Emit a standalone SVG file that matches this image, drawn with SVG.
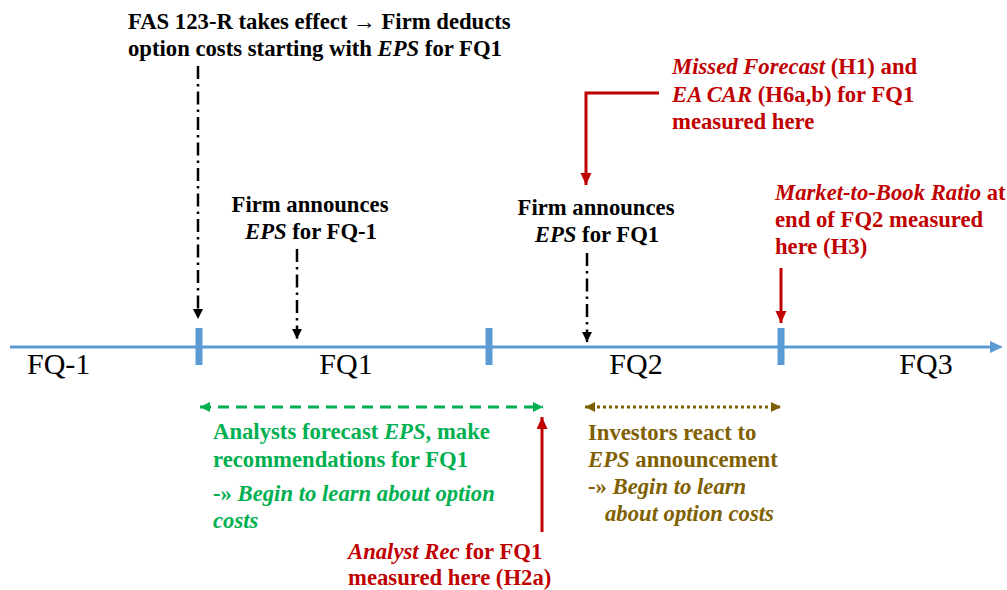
<svg xmlns="http://www.w3.org/2000/svg" width="1007" height="590" viewBox="0 0 1007 590">
  <defs>
    <style>
      text { font-family: "Liberation Serif", "Times New Roman", serif; }
      .lbl { font-size: 22.7px; font-weight: bold; }
      .qtr { font-size: 30px; fill: #000; }
      .blk { fill: #000; }
      .red { fill: #C00000; }
      .grn { fill: #00B050; }
      .olv { fill: #7F6000; }
      .it { font-style: italic; }
      .axis { stroke: #5B9BD5; stroke-width: 3; fill: none; }
      .tick { fill: #5B9BD5; }
      .dashdot { stroke: #000; stroke-width: 2.5; fill: none; stroke-dasharray: 13 5 2.5 5; }
      .redln { stroke: #C00000; stroke-width: 3; fill: none; }
      .grnln { stroke: #00B050; stroke-width: 3; fill: none; stroke-dasharray: 11 7; }
      .olvln { stroke: #7F6000; stroke-width: 3; fill: none; stroke-dasharray: 3 3; }
    </style>
    <marker id="ahBlack" markerUnits="userSpaceOnUse" markerWidth="12" markerHeight="12" refX="10" refY="5" orient="auto">
      <path d="M0,0 L10,5 L0,10 z" fill="#000"/>
    </marker>
    <marker id="ahRed" markerUnits="userSpaceOnUse" markerWidth="14" markerHeight="14" refX="12" refY="5.5" orient="auto">
      <path d="M0,0 L12,5.5 L0,11 z" fill="#C00000"/>
    </marker>
    <marker id="ahGreen" markerUnits="userSpaceOnUse" markerWidth="12" markerHeight="12" refX="10" refY="5" orient="auto-start-reverse">
      <path d="M0,0 L10,5 L0,10 z" fill="#00B050"/>
    </marker>
    <marker id="ahOlive" markerUnits="userSpaceOnUse" markerWidth="12" markerHeight="12" refX="10" refY="5" orient="auto-start-reverse">
      <path d="M0,0 L10,5 L0,10 z" fill="#7F6000"/>
    </marker>
  </defs>

  <rect width="1007" height="590" fill="#fff"/>

  <!-- time axis with quarter boundaries -->
  <g id="timeline">
    <line class="axis" x1="10" y1="347" x2="992" y2="347"/>
    <path d="M1003,347 L990,341 L990,353 z" fill="#5B9BD5"/>
    <rect class="tick" x="195.5" y="328" width="7" height="37"/>
    <rect class="tick" x="485.5" y="328" width="7" height="37"/>
    <rect class="tick" x="777.5" y="328" width="7" height="37"/>
    <text class="qtr" x="27" y="374">FQ-1</text>
    <text class="qtr" x="346" y="374" text-anchor="middle">FQ1</text>
    <text class="qtr" x="636" y="374" text-anchor="middle">FQ2</text>
    <text class="qtr" x="926" y="374" text-anchor="middle">FQ3</text>
  </g>

  <!-- connectors -->
  <g id="connectors">
    <line class="dashdot" x1="198" y1="66" x2="198" y2="319" marker-end="url(#ahBlack)"/>
    <line class="dashdot" x1="297" y1="249" x2="297" y2="339" marker-end="url(#ahBlack)"/>
    <line class="dashdot" x1="587" y1="253" x2="587" y2="342" marker-end="url(#ahBlack)"/>
    <polyline class="redln" points="659,93 586,93 586,185" marker-end="url(#ahRed)"/>
    <line class="redln" x1="781" y1="268" x2="781" y2="323" marker-end="url(#ahRed)"/>
    <line class="redln" x1="542" y1="532" x2="542" y2="417" marker-end="url(#ahRed)"/>
    <line class="grnln" x1="200" y1="407" x2="543" y2="407" marker-start="url(#ahGreen)" marker-end="url(#ahGreen)"/>
    <line class="olvln" x1="585" y1="407" x2="781" y2="407" marker-start="url(#ahOlive)" marker-end="url(#ahOlive)"/>
  </g>

  <g id="fas123r">
    <text class="lbl blk" x="128" y="29">FAS 123-R takes effect → Firm deducts</text>
    <text class="lbl blk" x="128" y="56">option costs starting with <tspan class="it">EPS</tspan> for FQ1</text>
  </g>

  <g id="announce-fqm1">
    <text class="lbl blk" x="310" y="212" text-anchor="middle">Firm announces</text>
    <text class="lbl blk" x="311" y="239" text-anchor="middle"><tspan class="it">EPS</tspan> for FQ-1</text>
  </g>

  <g id="announce-fq1">
    <text class="lbl blk" x="596" y="215" text-anchor="middle">Firm announces</text>
    <text class="lbl blk" x="597" y="242" text-anchor="middle"><tspan class="it">EPS</tspan> for FQ1</text>
  </g>

  <g id="missed-forecast">
    <text class="lbl red" x="672" y="74"><tspan class="it">Missed Forecast</tspan> (H1) and</text>
    <text class="lbl red" x="672" y="102"><tspan class="it">EA CAR</tspan> (H6a,b) for FQ1</text>
    <text class="lbl red" x="672" y="129">measured here</text>
  </g>

  <g id="market-to-book">
    <text class="lbl red" x="775" y="200"><tspan class="it">Market-to-Book Ratio</tspan> at</text>
    <text class="lbl red" x="775" y="227">end of FQ2 measured</text>
    <text class="lbl red" x="775" y="254">here (H3)</text>
  </g>

  <g id="analysts">
    <text class="lbl grn" x="213" y="439">Analysts forecast <tspan class="it">EPS</tspan>, make</text>
    <text class="lbl grn" x="213" y="467">recommendations for FQ1</text>
    <text class="lbl grn" x="213" y="501">-» <tspan class="it">Begin to learn about option</tspan></text>
    <text class="lbl grn it" x="213" y="528">costs</text>
  </g>

  <g id="analyst-rec">
    <text class="lbl red" x="348" y="559"><tspan class="it">Analyst Rec</tspan> for FQ1</text>
    <text class="lbl red" x="348" y="585">measured here (H2a)</text>
  </g>

  <g id="investors">
    <text class="lbl olv" x="588" y="440">Investors react to</text>
    <text class="lbl olv" x="588" y="467"><tspan class="it">EPS</tspan> announcement</text>
    <text class="lbl olv" x="588" y="494">-» <tspan class="it">Begin to learn</tspan></text>
    <text class="lbl olv it" x="605" y="521">about option costs</text>
  </g>
</svg>
